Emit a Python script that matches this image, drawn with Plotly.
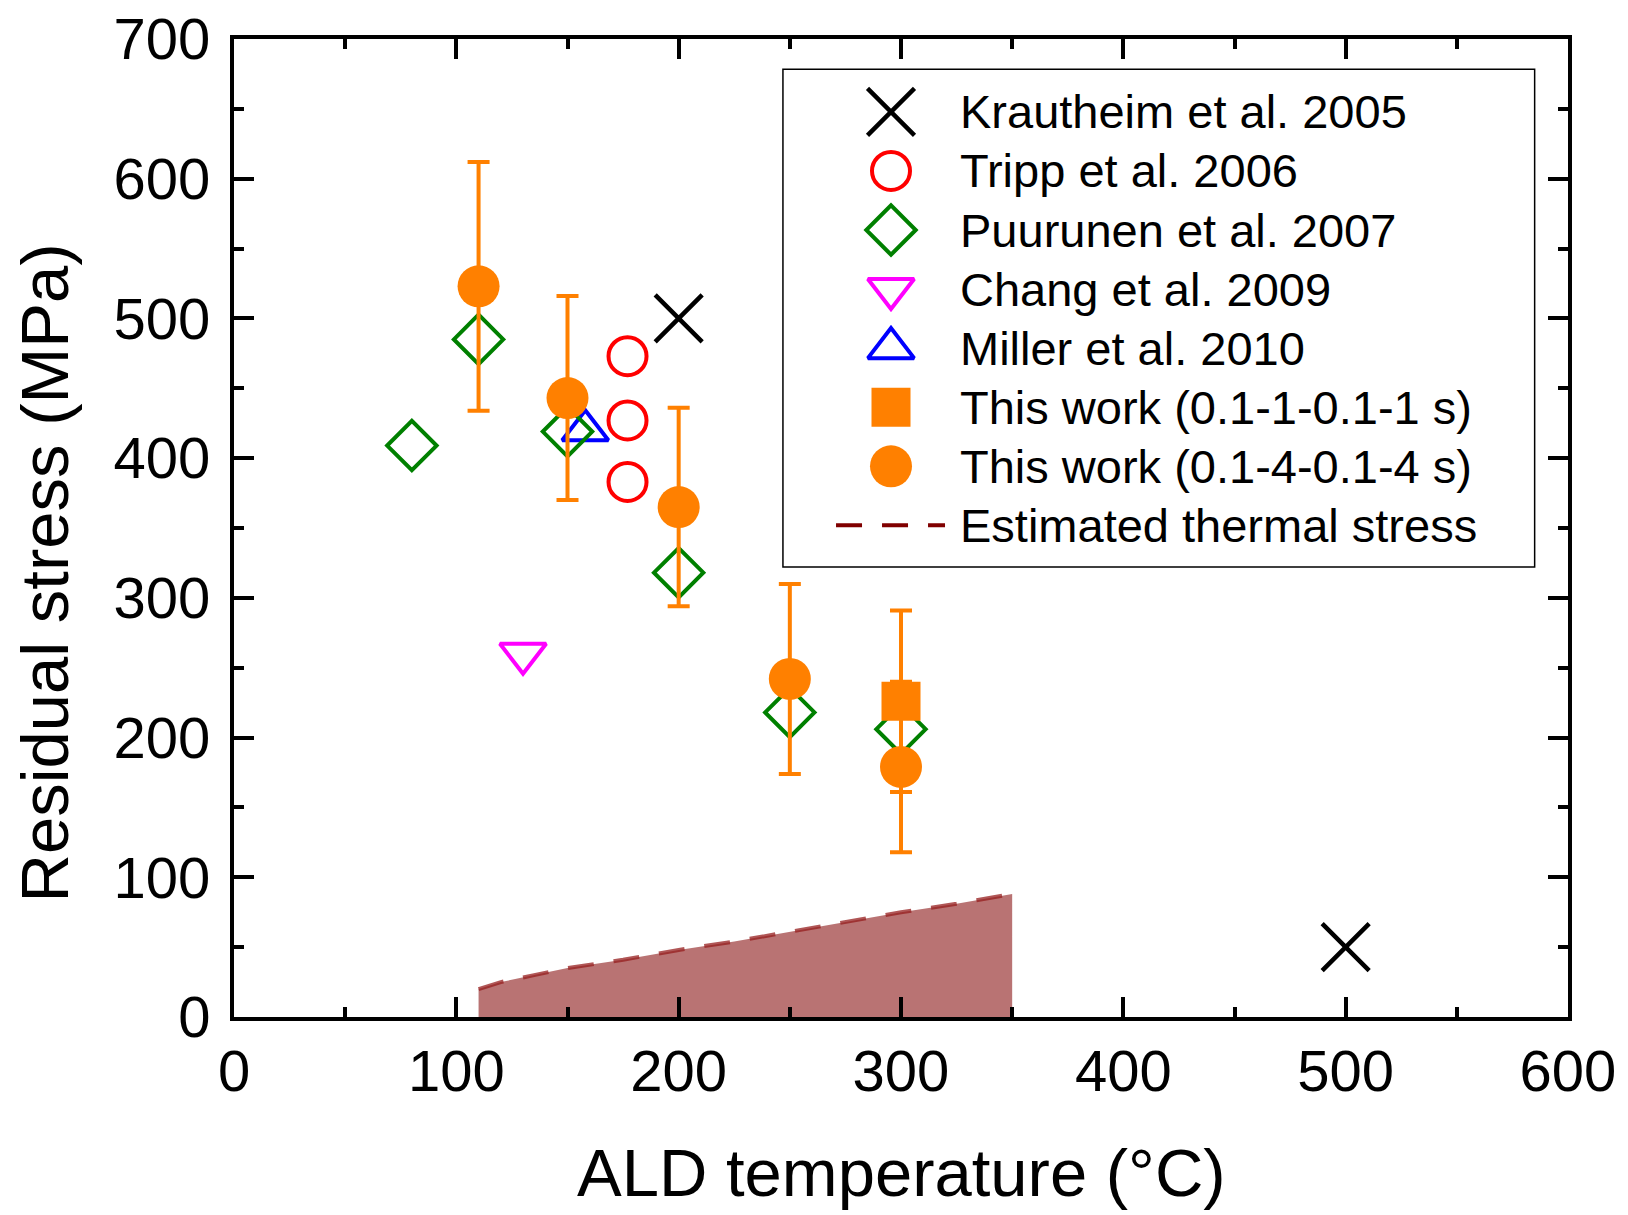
import plotly.graph_objects as go

# ---------------- data ----------------
krautheim_t = [200, 500]
krautheim_s = [500, 50]

tripp_t = [177, 177, 177]
tripp_s = [473, 427, 383]

puurunen_t = [80, 110, 150, 200, 250, 300]
puurunen_s = [409, 485, 419, 318, 218, 206]

chang_t = [130]
chang_s = [260]

miller_t = [158]
miller_s = [420]

fast_t = [300]
fast_s = [226]
fast_err = [65]

slow_t = [110, 150, 200, 250, 300]
slow_s = [523, 443, 365, 242, 179]
slow_err = [89, 73, 71, 68, 61]

thermal_t = [110, 120, 135, 150, 175, 200, 225, 250, 275, 300, 325, 350]
thermal_s = [20, 25, 30, 35, 41, 48, 54, 61, 68, 75, 81, 88]

legend_labels = [
    "Krautheim et al. 2005",
    "Tripp et al. 2006",
    "Puurunen et al. 2007",
    "Chang et al. 2009",
    "Miller et al. 2010",
    "This work (0.1-1-0.1-1 s)",
    "This work (0.1-4-0.1-4 s)",
    "Estimated thermal stress",
]

x_ticks = [0, 100, 200, 300, 400, 500, 600]
y_ticks = [0, 100, 200, 300, 400, 500, 600, 700]

x_title = "ALD temperature (°C)"
y_title = "Residual stress (MPa)"

# ---------------- styles ----------------
FONT = "Arial, 'Liberation Sans', sans-serif"
ORANGE = "#FF8000"
DARKRED = "#800000"
DASH = "26px,20px"

styles = [
    dict(symbol="x-thin", size=47, color="black", line=dict(color="black", width=4.5)),
    dict(symbol="circle-open", size=38, color="#FF0000", line=dict(color="#FF0000", width=4)),
    dict(symbol="diamond-open", size=38, color="#008000", line=dict(color="#008000", width=4)),
    dict(symbol="triangle-down-open", size=40, color="#FF00FF", line=dict(color="#FF00FF", width=4)),
    dict(symbol="triangle-up-open", size=40, color="#0000FF", line=dict(color="#0000FF", width=4)),
    dict(symbol="square", size=39, color=ORANGE, line=dict(width=0)),
    dict(symbol="circle", size=42, color=ORANGE, line=dict(width=0)),
]

fig = go.Figure()

# thermal stress area + dashed line
fig.add_trace(go.Scatter(
    x=thermal_t, y=thermal_s, mode="lines", fill="tozeroy",
    fillcolor="rgba(128,0,0,0.55)", line=dict(width=0, color="rgba(0,0,0,0)"),
    hoverinfo="skip", showlegend=False))
fig.add_trace(go.Scatter(
    x=thermal_t, y=thermal_s, mode="lines",
    line=dict(color="rgba(150,30,30,0.75)", width=4, dash=DASH),
    showlegend=False))

fig.add_trace(go.Scatter(x=krautheim_t, y=krautheim_s, mode="markers", marker=styles[0], showlegend=False))
fig.add_trace(go.Scatter(x=tripp_t, y=tripp_s, mode="markers", marker=styles[1], showlegend=False))
fig.add_trace(go.Scatter(x=miller_t, y=miller_s, mode="markers", marker=styles[4], showlegend=False))
fig.add_trace(go.Scatter(x=puurunen_t, y=puurunen_s, mode="markers", marker=styles[2], showlegend=False))
fig.add_trace(go.Scatter(x=chang_t, y=chang_s, mode="markers", marker=styles[3], showlegend=False))

fig.add_trace(go.Scatter(
    x=slow_t, y=slow_s, mode="markers", marker=styles[6],
    error_y=dict(type="data", array=slow_err, color=ORANGE, thickness=4, width=11),
    showlegend=False))
fig.add_trace(go.Scatter(
    x=fast_t, y=fast_s, mode="markers", marker=styles[5],
    error_y=dict(type="data", array=fast_err, color=ORANGE, thickness=4, width=11),
    showlegend=False))

# ---------------- custom legend (plot-fraction coordinates) ----------------
leg_mx = 0.4925
leg_tx = 0.5427
leg_rows = [0.9255, 0.8651, 0.8047, 0.7443, 0.6839, 0.6235, 0.5631, 0.5027]

for i in range(7):
    fig.add_trace(go.Scatter(
        x=[leg_mx], y=[leg_rows[i]], mode="markers", marker=styles[i],
        xaxis="x2", yaxis="y2", showlegend=False, hoverinfo="skip"))
fig.add_trace(go.Scatter(
    x=[0.4513, 0.533], y=[leg_rows[7], leg_rows[7]], mode="lines",
    line=dict(color=DARKRED, width=4, dash=DASH),
    xaxis="x2", yaxis="y2", showlegend=False, hoverinfo="skip"))

for lab, yy in zip(legend_labels, leg_rows):
    fig.add_annotation(x=leg_tx, y=yy, xref="paper", yref="paper", text=lab,
                       showarrow=False, xanchor="left", yanchor="middle",
                       font=dict(family=FONT, size=47, color="black"))

fig.add_shape(type="rect", xref="paper", yref="paper",
              x0=0.4115, x1=0.975, y0=0.46, y1=0.969,
              line=dict(color="black", width=1.5), fillcolor="rgba(0,0,0,0)")

# axis titles as annotations
fig.add_annotation(x=0.5, y=0, xref="paper", yref="paper", yshift=-155,
                   text=x_title, showarrow=False, xanchor="center", yanchor="middle",
                   font=dict(family=FONT, size=67, color="black"))
fig.add_annotation(x=0, y=0.4535, xref="paper", yref="paper", xshift=-190,
                   text=y_title, textangle=-90, showarrow=False,
                   xanchor="center", yanchor="middle",
                   font=dict(family=FONT, size=67, color="black"))

axis_common = dict(
    showline=True, linecolor="black", linewidth=4, mirror="allticks",
    ticks="inside", ticklen=20, tickwidth=3.5, tickcolor="black",
    showgrid=False, zeroline=False, ticklabeloverflow="allow",
    tickfont=dict(family=FONT, size=58, color="black"),
    minor=dict(ticks="inside", ticklen=10, tickwidth=3.5, tickcolor="black", dtick=50),
)

# the page body adds an 8px offset; figure is sized so the plot lands where the reference's does
fig.update_layout(
    width=1620, height=1207,
    margin=dict(l=226, r=60, t=31, b=198),
    paper_bgcolor="white", plot_bgcolor="white",
    font=dict(family=FONT, color="black"),
    xaxis=dict(range=[0, 600], tickvals=x_ticks, ticktext=[str(v) for v in x_ticks],
               ticklabelstandoff=0, automargin=False, **axis_common),
    yaxis=dict(range=[0, 700], tickvals=y_ticks, ticktext=[str(v) for v in y_ticks],
               ticklabelstandoff=8, automargin=False, **axis_common),
    xaxis2=dict(range=[0, 1], overlaying="x", visible=False, fixedrange=True),
    yaxis2=dict(range=[0, 1], overlaying="y", visible=False, fixedrange=True),
    showlegend=False,
)

fig.write_html("out.html")
